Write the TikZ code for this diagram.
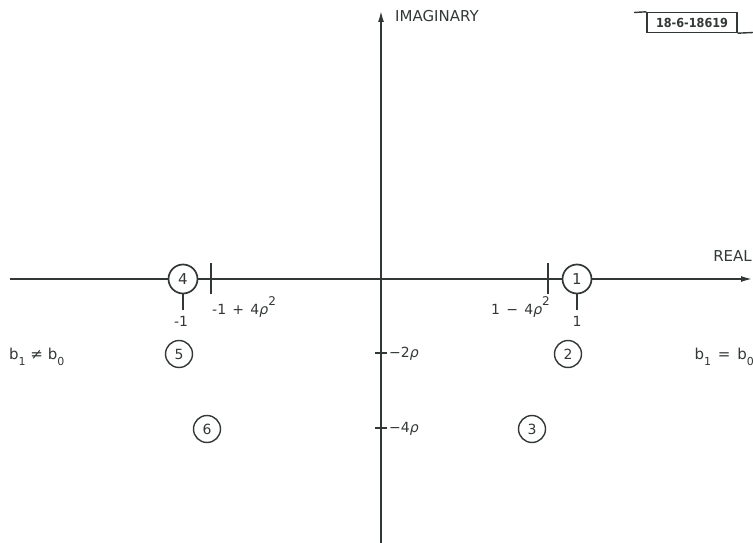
\documentclass[tikz,border=0pt]{standalone}
\usepackage{fontspec}
\setmainfont{DejaVu Sans}
\newfontfamily\stampfont{DejaVu Sans Condensed}
\usetikzlibrary{arrows.meta}
\definecolor{ink}{RGB}{50,56,52}
\newcommand{\rhosq}{\textit{ρ}\raisebox{0.6em}{\fontsize{12}{12}\selectfont 2}}
\newcommand{\bsub}[1]{b\raisebox{-0.35em}{\fontsize{11}{12}\selectfont #1}}
\newcommand{\gap}{\hspace{0.45em}}
\begin{document}
\begin{tikzpicture}[x=1pt,y=-1pt,
  ln/.style={draw=ink,line width=1.4pt},
  lbl/.style={text=ink,font=\fontsize{14}{16}\selectfont,inner sep=0pt},
  bigc/.style={circle,draw=ink,line width=1.7pt,minimum size=29pt,inner sep=0pt,text=ink,font=\fontsize{15}{16}\selectfont},
  smc/.style={circle,draw=ink,line width=1.4pt,minimum size=27pt,inner sep=0pt,text=ink,font=\fontsize{14}{16}\selectfont}]
\useasboundingbox (0,0) rectangle (753,543);
% axes
\coordinate (rl) at (10,279);
\coordinate (rr) at (752,279);
\coordinate (ib) at (381,543);
\coordinate (it) at (381,11);
\draw[ln,-{Latex[length=11pt,width=6pt]}] (rl) -- (rr);
\draw[ln,-{Latex[length=11pt,width=6pt]}] (ib) -- (it);
\node[lbl,anchor=west,font=\fontsize{15}{16}\selectfont] (imag) at (395,16) {IMAGINARY};
\node[lbl,anchor=east,font=\fontsize{15}{16}\selectfont] (real) at (752,256) {REAL};
% stamp
\node[draw=ink,line width=1.4pt,minimum width=90pt,minimum height=20pt,inner sep=0pt,text=ink,font=\stampfont\bfseries\fontsize{12.5}{14}\selectfont] (stamp) at (692,22.5) {18-6-18619};
\coordinate (s1) at (634,12.5);
\coordinate (s2) at (753,32.5);
\draw[ln] (s1) -- (stamp.north west);
\draw[ln] (stamp.south east) -- (s2);
% circles on real axis
\node[bigc,fill=white] (c4) at (183,279) {4};
\node[bigc,fill=white] (c1) at (577,279) {1};
% ticks on real axis
\coordinate (t1a) at (211,263); \coordinate (t1b) at (211,294);
\draw[ln] (t1a) -- (t1b);
\coordinate (t2a) at (548,263); \coordinate (t2b) at (548,294);
\draw[ln] (t2a) -- (t2b);
\coordinate (d4) at (183,310);
\draw[ln] (c4.south) -- (d4);
\coordinate (d1) at (577,310);
\draw[ln] (c1.south) -- (d1);
\node[lbl,anchor=base] (m1) at (181,326) {-1};
\node[lbl,anchor=base] (p1) at (577,326) {1};
\node[lbl,anchor=base west] (lm) at (212,314) {-1\gap+\gap4\rhosq};
\node[lbl,anchor=base east] (lp) at (550,314) {1\gap−\gap4\rhosq};
% imaginary ticks
\coordinate (ia) at (375,353); \coordinate (ib2) at (387,353);
\draw[ln] (ia) -- (ib2);
\coordinate (ic) at (375,428); \coordinate (id) at (387,428);
\draw[ln] (ic) -- (id);
\node[lbl,anchor=west] (r2) at (389,354) {−2\textit{ρ}};
\node[lbl,anchor=west] (r4) at (389,429) {−4\textit{ρ}};
% small circles
\node[smc] (c5) at (179,354) {5};
\node[smc] (c2) at (568,354) {2};
\node[smc] (c6) at (207,429) {6};
\node[smc] (c3) at (532,429) {3};
% side labels
\node[lbl,anchor=west,font=\fontsize{15}{16}\selectfont] (ne) at (9,357) {\bsub{1} ≠ \bsub{0}};
\node[lbl,anchor=east,font=\fontsize{15}{16}\selectfont] (eq) at (754,357) {\bsub{1}\gap=\gap\bsub{0}};
\end{tikzpicture}
\end{document}
